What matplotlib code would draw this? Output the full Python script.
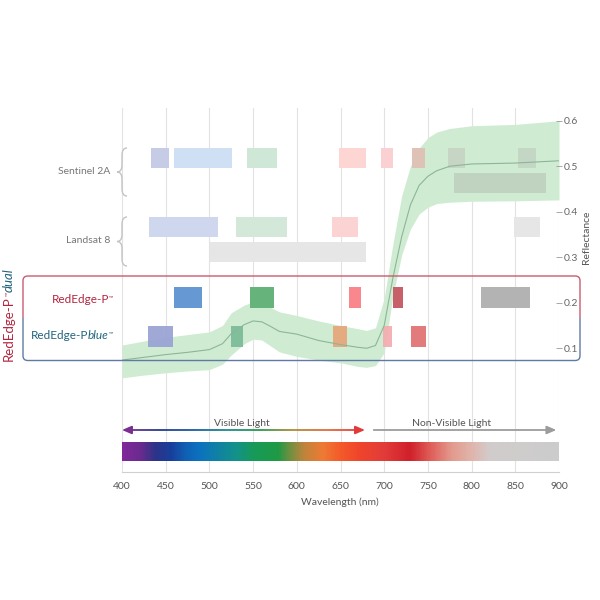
import numpy as np
import matplotlib
matplotlib.use('Agg')
import matplotlib.pyplot as plt
from matplotlib.colors import LinearSegmentedColormap
from matplotlib.path import Path
from matplotlib.patches import PathPatch, FancyBboxPatch, Rectangle
from matplotlib.collections import LineCollection

plt.rcParams['font.family'] = ['Lato', 'DejaVu Sans']

# ---------------- data ----------------
wavelength = [400, 425, 450, 475, 500, 515, 525, 540, 550, 560, 570, 580, 600, 625, 650,
              670, 680, 690, 700, 710, 720, 730, 740, 750, 760, 775, 800, 850, 900]
refl_mean = [0.074, 0.080, 0.086, 0.091, 0.097, 0.110, 0.132, 0.152, 0.160, 0.158, 0.148, 0.137,
             0.131, 0.117, 0.108, 0.102, 0.100, 0.106, 0.150, 0.255, 0.345, 0.415, 0.458, 0.478,
             0.490, 0.500, 0.505, 0.507, 0.512]
refl_upper = [0.107, 0.116, 0.124, 0.130, 0.136, 0.150, 0.178, 0.195, 0.202, 0.200, 0.190, 0.180,
              0.172, 0.160, 0.150, 0.143, 0.139, 0.145, 0.210, 0.330, 0.435, 0.500, 0.540, 0.563,
              0.575, 0.583, 0.589, 0.592, 0.600]
refl_lower = [0.035, 0.041, 0.046, 0.050, 0.053, 0.065, 0.085, 0.110, 0.120, 0.118, 0.105, 0.092,
              0.082, 0.074, 0.068, 0.060, 0.058, 0.062, 0.090, 0.215, 0.305, 0.362, 0.395, 0.410,
              0.418, 0.421, 0.423, 0.424, 0.426]

xticks = [400, 450, 500, 550, 600, 650, 700, 750, 800, 850, 900]
yticks = [0.1, 0.2, 0.3, 0.4, 0.5, 0.6]

sentinel_2a = [(433, 454), (459, 526), (543, 577), (648, 679), (696, 710), (732, 747), (773, 792), (853, 874)]
sentinel_2a_b8 = [(780, 885)]
landsat_8 = [(431, 510), (530, 589), (640, 670), (849, 878)]
landsat_8_pan = [(501, 679)]
rededge_p = [(459, 491), (546, 574), (660, 673), (710, 721), (811, 867)]
rededge_pblue = [(430, 458), (525, 538), (641, 657), (699, 709), (731, 748)]

visible_range = (400, 678)
nonvisible_range = (688, 897)

spectrum_nm = [400, 420, 437, 455, 472, 488, 508, 530, 550, 578, 592, 608, 630, 650, 672,
               700, 730, 752, 778, 800, 822, 900]
spectrum_col = ['#80289a', '#6a2b8e', '#2c3488', '#183f9c', '#1060b4', '#0b72c0', '#1081a4',
                '#13928a', '#179a58', '#1f9a45', '#6f9040', '#c0843c', '#ee7a34', '#f45a2a',
                '#ef452c', '#e23c3a', '#d0202b', '#de5a55', '#e39a8e', '#e0b4aa', '#d2cccc', '#cccccc']

# ---------------- figure ----------------
W = H = 600
fig = plt.figure(figsize=(6, 6), dpi=100)


def fx(px):
    return px / W


def fy(py):
    return 1 - py / H


ax = fig.add_axes([fx(122), fy(472), (559 - 122) / W, (472 - 108) / H])
YMIN, YMAX = -0.172, 0.628


def ry(py):
    return (472 - py) / 364 * (YMAX - YMIN) + YMIN


# grid
for x in xticks:
    ax.axvline(x, color='#e2e2e2', lw=0.8, zorder=0)

# spectrum bar
cmap = LinearSegmentedColormap.from_list(
    'spec', [((n - 400) / 500, c) for n, c in zip(spectrum_nm, spectrum_col)])
grad = np.linspace(400, 900, 600)[None, :]
ax.imshow(grad, cmap=cmap, vmin=400, vmax=900, aspect='auto',
          extent=[400, 900, ry(461), ry(442)], zorder=2, interpolation='bilinear')

# reflectance band + line
ax.fill_between(wavelength, refl_lower, refl_upper, color='#cfecd3', lw=0, zorder=1)


def bars(ranges, y0, y1, colors, alpha=1.0):
    if isinstance(colors, str):
        colors = [colors] * len(ranges)
    for (a, b), c in zip(ranges, colors):
        ax.add_patch(Rectangle((a, ry(y1)), b - a, ry(y0) - ry(y1), facecolor=c,
                               edgecolor='none', alpha=alpha, zorder=3))


bars(sentinel_2a, 148, 168, ['#c6cbe6', '#cfe0f5', '#cfe7d6', '#fdd6d3', '#fbd0d3',
                             '#dfc2b6', '#c6d5c4', '#c4d7c4'])
bars(sentinel_2a_b8, 173, 193, '#c0d2c0')
bars(landsat_8, 217, 237, ['#ced7ed', '#d4e8da', '#fbd3d3', '#e6e6e6'])
bars(landsat_8_pan, 242, 262, '#e6e6e6')
bars(rededge_p, 287, 308, ['#6698d3', '#66b47c', '#fa868e', '#c8606a', '#b3b3b3'])
bars(rededge_pblue, 326, 347, ['#98a2d3', '#7aba98', '#e6a67a', '#f5acb0', '#e07070'], alpha=0.92)

ax.plot(wavelength, refl_mean, color='#8db597', lw=0.8, zorder=4)

# arrows
ya = ry(430)
vcmap = LinearSegmentedColormap.from_list('vis', ['#7a2e90', '#233a8c', '#1b5aa6', '#1e8a8c',
                                                  '#2a9a4a', '#b08a3a', '#e8683a', '#e23a3a'])
xs = np.linspace(visible_range[0] + 3, visible_range[1] - 3, 200)
segs = [[(xs[i], ya), (xs[i + 1], ya)] for i in range(len(xs) - 1)]
lc = LineCollection(segs, colors=vcmap(np.linspace(0, 1, len(segs))), lw=1.3, zorder=5)
ax.add_collection(lc)
hs = '-|>,head_length=0.7,head_width=0.3'
ax.annotate('', xy=(visible_range[0], ya), xytext=(visible_range[0] + 6, ya),
            arrowprops=dict(arrowstyle=hs, color='#7a2e90', lw=1.3, shrinkA=0, shrinkB=0,
                            mutation_scale=8), zorder=6)
ax.annotate('', xy=(visible_range[1], ya), xytext=(visible_range[1] - 6, ya),
            arrowprops=dict(arrowstyle=hs, color='#e23a3a', lw=1.3, shrinkA=0, shrinkB=0,
                            mutation_scale=8), zorder=6)
ax.annotate('', xy=(nonvisible_range[1], ya), xytext=(nonvisible_range[0], ya),
            arrowprops=dict(arrowstyle=hs, color='#9c9c9c', lw=1.3, shrinkA=0, shrinkB=0,
                            mutation_scale=8), zorder=6)
ax.text(537, ry(423), 'Visible Light', ha='center', va='center', fontsize=7.5, color='#555555')
ax.text(777, ry(423), 'Non-Visible Light', ha='center', va='center', fontsize=7.5, color='#555555')

# axes styling
ax.set_xlim(400, 900)
ax.set_ylim(YMIN, YMAX)
for s in ['left', 'right', 'top']:
    ax.spines[s].set_visible(False)
ax.spines['bottom'].set_color('#cfcfcf')
ax.spines['bottom'].set_linewidth(0.8)
ax.set_xticks(xticks)
ax.set_xticklabels([str(v) for v in xticks])
ax.tick_params(axis='x', length=0, labelsize=7.5, labelcolor='#555555', pad=7)
ax.yaxis.tick_right()
ax.set_yticks(yticks)
ax.set_yticklabels([f'{v:.1f}' for v in yticks])
ax.tick_params(axis='y', direction='inout', length=5, width=0.6, color='#999999',
               labelsize=7.5, labelcolor='#666666', pad=1)
ax.patch.set_alpha(0)

fig.text(fx(340), fy(502), 'Wavelength (nm)', ha='center', va='center', fontsize=7.5, color='#555555')
fig.text(fx(586), fy(237), 'Reflectance', ha='center', va='center', rotation=90,
         fontsize=7.5, color='#555555')

# row labels and braces
fig.text(fx(110), fy(172), 'Sentinel 2A', ha='right', va='center', fontsize=7.5, color='#777777')
fig.text(fx(110), fy(241), 'Landsat 8', ha='right', va='center', fontsize=7.5, color='#777777')


def brace(yt, yb, xs_=122, xt=117, xe=127, r=7):
    ym = (yt + yb) / 2
    pts = [(xe, yt), (xs_, yt), (xs_, yt + r), (xs_, ym - r), (xs_, ym), (xt, ym),
           (xs_, ym), (xs_, ym + r), (xs_, yb - r), (xs_, yb), (xe, yb)]
    codes = [Path.MOVETO, Path.CURVE3, Path.CURVE3, Path.LINETO, Path.CURVE3, Path.CURVE3,
             Path.CURVE3, Path.CURVE3, Path.LINETO, Path.CURVE3, Path.CURVE3]
    p = Path([(fx(a), fy(b)) for a, b in pts], codes)
    fig.patches.append(PathPatch(p, transform=fig.transFigure, fill=False,
                                 edgecolor='#c4c4c4', lw=1.0))


brace(148, 196)
brace(217, 266)

# RedEdge box
CRIMSON = '#b3253f'
TEAL = '#22647e'
for col, clip in [('#cc5a70', (0, fy(318), 1, 1)), ('#5f7aa6', (0, 0, 1, fy(318)))]:
    bb = FancyBboxPatch((fx(23), fy(360.5)), fx(580) - fx(23), fy(276) - fy(360.5),
                        boxstyle='round,pad=0,rounding_size=0.008', transform=fig.transFigure,
                        facecolor='none', edgecolor=col, lw=1.0)
    cr = Rectangle((clip[0], clip[1]), clip[2], clip[3], transform=fig.transFigure)
    bb.set_clip_path(cr)
    fig.patches.append(bb)

renderer = fig.canvas.get_renderer()


def pieces(items, x_px, y_px, anchor='right', rotation=0):
    objs = []
    total = 0
    for s, kw, dy in items:
        t = fig.text(0, 0, s, rotation=rotation, rotation_mode='anchor', ha='left',
                     va='baseline', **kw)
        ext = t.get_window_extent(renderer)
        w = ext.height if rotation == 90 else ext.width
        objs.append((t, w, dy))
        total += w
    pos = x_px - total if (anchor == 'right' and rotation == 0) else (x_px if rotation == 0 else y_px)
    for t, w, dy in objs:
        if rotation == 0:
            t.set_position((fx(pos), fy(y_px - dy)))
            pos += w
        else:
            t.set_position((fx(x_px - dy), fy(pos)))
            pos -= w


pieces([('RedEdge-P', dict(fontsize=8.5, color=CRIMSON), 0),
        ('™', dict(fontsize=4, color=CRIMSON), 4)], 113, 303)
pieces([('RedEdge-P', dict(fontsize=8.5, color=TEAL), 0),
        ('blue', dict(fontsize=8.5, color=TEAL, style='italic'), 0),
        ('™', dict(fontsize=4, color=TEAL), 4)], 113, 339)
pieces([('RedEdge-P', dict(fontsize=9.5, color=CRIMSON), 0),
        ('™', dict(fontsize=4, color=CRIMSON), 4),
        ('dual', dict(fontsize=9.5, color=TEAL, style='italic'), 0)], 13, 361, rotation=90)

fig.savefig('out.png', dpi=100)
